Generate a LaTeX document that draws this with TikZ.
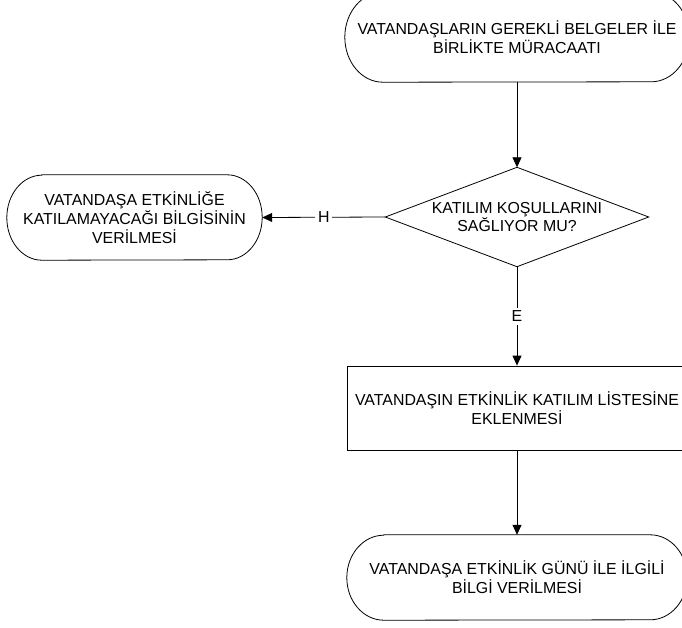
\documentclass[tikz,border=0pt]{standalone}
\usepackage{fontspec}
\setmainfont{Liberation Sans}
\usetikzlibrary{arrows.meta}
\tikzset{
  box/.style={draw=none, inner sep=0pt, align=center, font=\fontsize{15.9}{18.8}\selectfont},
  shapeline/.style={draw=black, line width=0.8pt},
  arr/.style={draw=black, line width=0.8pt, -{Triangle[length=10pt,width=9pt]}},
  lbl/.style={fill=white, inner sep=3pt, font=\fontsize{15.9}{18.8}\selectfont}
}
\newcommand\termshape[3]{% node, x radius, y radius
  \draw[shapeline] ([xshift=#2]#1.north west) -- ([xshift=-#2]#1.north east)
    arc[start angle=90,end angle=-90,x radius=#2,y radius=#3]
    -- ([xshift=#2]#1.south west)
    arc[start angle=270,end angle=90,x radius=#2,y radius=#3] -- cycle;}
\begin{document}
\begin{tikzpicture}[x=1pt,y=1pt]
\useasboundingbox (0,0) rectangle (682,-627);
% nodes
\node[box, minimum width=344pt, minimum height=90pt] (t1) at (517,-37)
  {VATANDAŞLARIN GEREKLİ BELGELER İLE\\BİRLİKTE MÜRACAATI};
\node[box, minimum width=263pt, minimum height=99pt] (d) at (517,-217)
  {KATILIM KOŞULLARINI\\SAĞLIYOR MU?};
\node[box, minimum width=255pt, minimum height=85pt] (t2) at (134.5,-217.5)
  {VATANDAŞA ETKİNLİĞE\\KATILAMAYACAĞI BİLGİSİNİN\\VERİLMESİ};
\node[box, shapeline, minimum width=340pt, minimum height=84pt] (r) at (517,-408)
  {VATANDAŞIN ETKİNLİK KATILIM LİSTESİNE\\EKLENMESİ};
\node[box, minimum width=340pt, minimum height=85pt] (t3) at (517,-577.5)
  {VATANDAŞA ETKİNLİK GÜNÜ İLE İLGİLİ\\BİLGİ VERİLMESİ};
% shapes
\termshape{t1}{38pt}{45pt}
\termshape{t2}{35pt}{42.5pt}
\termshape{t3}{37pt}{42.5pt}
\draw[shapeline] (d.north) -- (d.east) -- (d.south) -- (d.west) -- cycle;
% connectors
\draw[arr] (t1.south) -- (d.north);
\draw[arr] (d.west) -- node[lbl]{H} (t2.east);
\draw[arr] (d.south) -- node[lbl]{E} (r.north);
\draw[arr] (r.south) -- (t3.north);
\end{tikzpicture}
\end{document}
